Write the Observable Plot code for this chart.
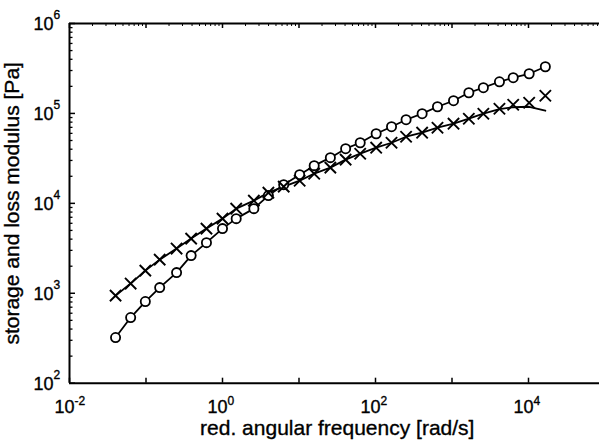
<!DOCTYPE html>
<html>
<head>
<meta charset="utf-8">
<script src="https://cdn.jsdelivr.net/npm/d3@7"></script>
<script src="https://cdn.jsdelivr.net/npm/@observablehq/plot@0.6"></script>
<style>
  html, body { margin: 0; padding: 0; background: white; }
  #chart { width: 599px; height: 447px; overflow: hidden; }
</style>
</head>
<body>
<div id="chart"></div>
<script>
// reduced angular frequency [rad/s]
const omega = [0.040, 0.063, 0.098, 0.151, 0.251, 0.389, 0.617, 1.0, 1.51, 2.57, 3.98, 6.31, 10.2, 15.8, 25.7, 40.7, 63.1, 102, 162, 251, 407, 646, 1047, 1660, 2570, 4170, 6310, 10200, 16600];
// storage modulus G' [Pa] (circles)
const storage = [322, 537, 809, 1156, 1698, 2624, 3656, 5236, 6761, 8730, 12190, 16140, 20840, 26240, 32210, 40550, 47210, 59430, 71120, 85110, 99310, 118600, 138400, 169800, 193200, 224900, 249500, 276100, 330400];
// loss modulus G'' [Pa] (crosses)
const loss = [942, 1282, 1786, 2366, 3141, 4055, 5236, 6761, 8730, 10720, 13150, 15350, 17860, 21380, 24950, 30620, 35650, 41590, 47210, 55080, 61090, 69340, 76910, 87300, 99310, 112700, 125000, 131500, 157400];
// model fit curves
const storageFit = [322, 537, 809, 1156, 1698, 2624, 3656, 5236, 6761, 8730, 12190, 16140, 20840, 26240, 32210, 40550, 47210, 59430, 71120, 85110, 99310, 118600, 138400, 169800, 193200, 224900, 249500, 276100, 330400];
const lossFit = [942, 1282, 1786, 2366, 3141, 4055, 5236, 6761, 8730, 10720, 13150, 15350, 17860, 21380, 24950, 30620, 35650, 41590, 47210, 55080, 61090, 69340, 76910, 87300, 99310, 111400, 117200, 118600, 107200];

// axis ticks and labels
const xTickValues = [1e-2, 1e-1, 1e0, 1e1, 1e2, 1e3, 1e4];
const xLabelValues = [1e-2, 1e0, 1e2, 1e4];
const xLabelExponents = ["-2", "0", "2", "4"];
const yTickValues = [1e2, 1e3, 1e4, 1e5, 1e6];
const yLabelExponents = ["2", "3", "4", "5", "6"];
const xTitle = "red. angular frequency [rad/s]";
const yTitle = "storage and loss modulus [Pa]";

const yMinor = [];
for (let e = 2; e < 6; e++) for (let m = 2; m <= 9; m++) yMinor.push(m * Math.pow(10, e));
const xMinor = [];
for (let e = -2; e < 5; e++) for (let m = 2; m <= 9; m++) xMinor.push(m * Math.pow(10, e));

const G1 = omega.map((w, i) => ({w, g: storage[i]}));
const G2 = omega.map((w, i) => ({w, g: loss[i]}));
const F1 = omega.map((w, i) => ({w, g: storageFit[i]}));
const F2 = omega.map((w, i) => ({w, g: lossFit[i]}));

const X0 = 69, X1 = 604.5, Y0 = 382.7, Y1 = 23;
const XDEC = (X1 - X0) / 7, YDEC = (Y0 - Y1) / 4;
// tick lengths expressed as a factor along the log axes
const xLen = px => Math.pow(10, px / XDEC);
const yLen = px => Math.pow(10, px / YDEC);
const font = "Liberation Sans, Arial, Helvetica, sans-serif";
const txt = {fill: "black", stroke: "black", strokeWidth: 0.35};

const chart = Plot.plot({
  width: 599,
  height: 447,
  marginLeft: 69, marginRight: 0, marginTop: 23, marginBottom: 64,
  style: {fontFamily: font, background: "white", color: "black"},
  x: {type: "log", domain: [1e-2, 1e5], range: [X0, X1], axis: null},
  y: {type: "log", domain: [1e2, 1e6], range: [Y0, Y1], axis: null},
  marks: [
    // frame
    Plot.ruleX([1e-2], {y1: 1e2, y2: 1e6, stroke: "black", strokeWidth: 2}),
    Plot.ruleY([1e2], {x1: 1e-2, x2: 1e5, stroke: "black", strokeWidth: 2}),
    Plot.ruleY([1e6], {x1: 1e-2, x2: 1e5, stroke: "black", strokeWidth: 2.2}),
    // y ticks (inward)
    Plot.ruleY(yTickValues, {x1: 1e-2, x2: 1e-2 * xLen(6), stroke: "black", strokeWidth: 1.5}),
    Plot.ruleY(yMinor, {x1: 1e-2, x2: 1e-2 * xLen(3.5), stroke: "black", strokeWidth: 1.3}),
    // x ticks bottom and top (inward)
    Plot.ruleX(xTickValues, {y1: 1e2, y2: 1e2 * yLen(5), stroke: "black", strokeWidth: 1.5}),
    Plot.ruleX(xTickValues, {y1: 1e6, y2: 1e6 / yLen(5), stroke: "black", strokeWidth: 1.5}),
    Plot.ruleX(xMinor, {y1: 1e6, y2: 1e6 / yLen(3), stroke: "black", strokeWidth: 1}),
    // y tick labels
    Plot.text(yTickValues, {x: 1e-2, y: d => d, text: () => "10", textAnchor: "end", dx: -16, dy: 1, fontSize: 18, ...txt}),
    Plot.text(yTickValues, {x: 1e-2, y: d => d, text: (d, i) => yLabelExponents[i], textAnchor: "start", dx: -16, dy: -8, fontSize: 12, ...txt}),
    // x tick labels
    Plot.text(xLabelValues, {x: d => d, y: 1e2, text: () => "10", textAnchor: "end", dx: 5, dy: 24, fontSize: 18, ...txt}),
    Plot.text(xLabelValues, {x: d => d, y: 1e2, text: (d, i) => xLabelExponents[i], textAnchor: "start", dx: 5, dy: 18, fontSize: 12, ...txt}),
    // axis titles
    Plot.text([xTitle], {x: Math.pow(10, 1.5), y: 1e2, text: d => d, dy: 45, fontSize: 21, ...txt}),
    Plot.text([yTitle], {x: 1e-2, y: 1e4, text: d => d, rotate: -90, dx: -57, fontSize: 21, ...txt}),
    // fit curves
    Plot.line(F1, {x: "w", y: "g", stroke: "black", strokeWidth: 1.8}),
    Plot.line(F2, {x: "w", y: "g", stroke: "black", strokeWidth: 1.8}),
    // data
    Plot.dot(G1, {x: "w", y: "g", r: 4.6, stroke: "black", fill: "white", strokeWidth: 1.8}),
    Plot.dot(G2, {x: "w", y: "g", r: 5.2, symbol: "times", stroke: "black", strokeWidth: 1.9})
  ]
});
document.getElementById("chart").appendChild(chart);
</script>
</body>
</html>
